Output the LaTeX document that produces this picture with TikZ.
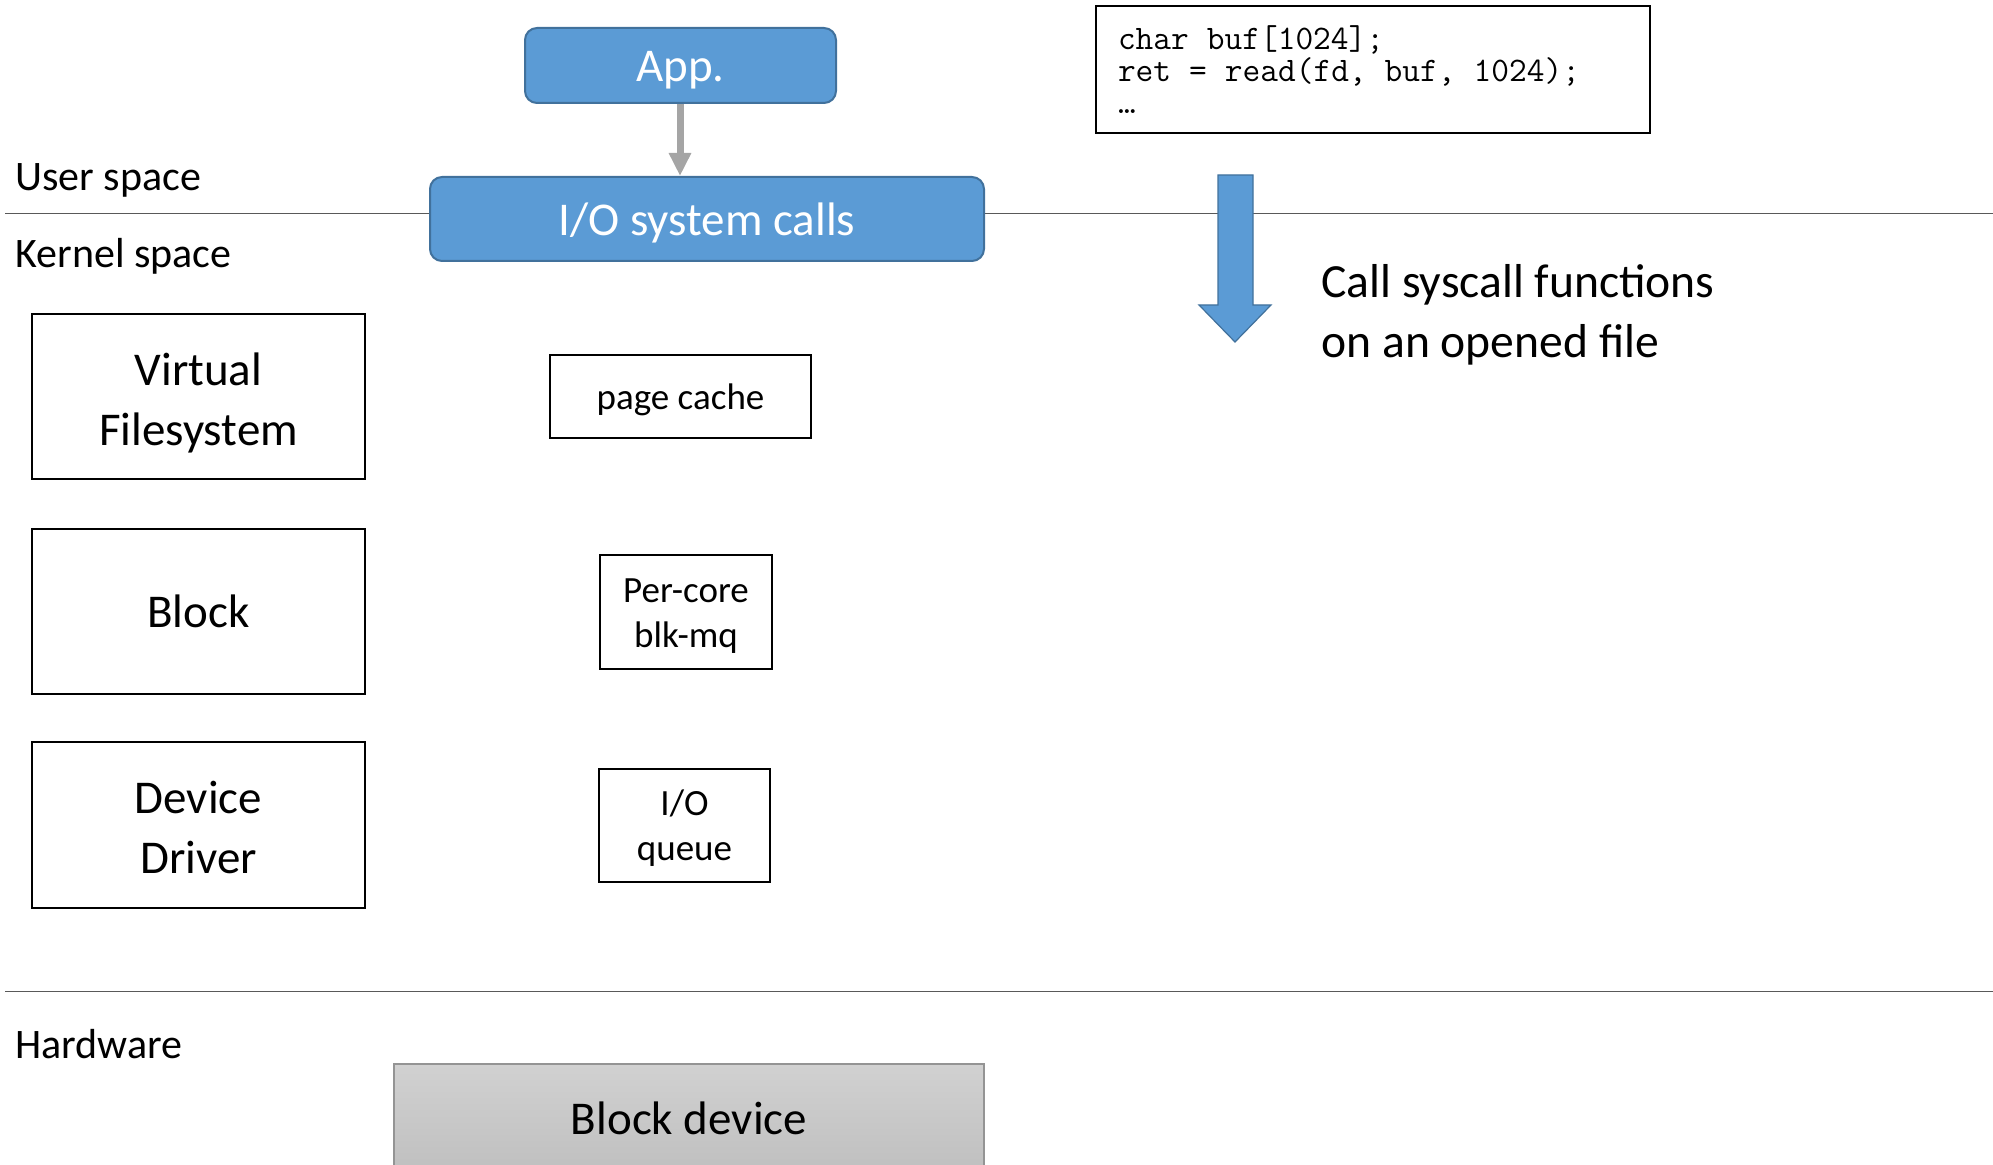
\documentclass[tikz,border=0pt]{standalone}
\usepackage{fontspec}
\setmainfont{Carlito}
\usetikzlibrary{arrows.meta}
\definecolor{accentblue}{HTML}{5B9BD5}
\definecolor{accentedge}{HTML}{41719C}
\definecolor{rulegray}{HTML}{595959}
\definecolor{arrowgray}{HTML}{A5A5A5}
% line struts that centre text on the full ascent/descent of the face
\newcommand\topstrut{\rule{0pt}{0.952em}}
\newcommand\tallstrut{\rule{0pt}{1.06em}}
\newcommand\botstrut{\rule[-0.269em]{0pt}{0pt}}
\tikzset{
  slidetext/.style={execute at begin node=\topstrut, execute at end node=\botstrut},
  layerbox/.style={draw=black, line width=1pt, align=center, inner sep=0pt,
    font=\fontsize{23.5}{30}\selectfont},
  smallbox/.style={draw=black, line width=1pt, align=center, inner sep=0pt,
    font=\fontsize{18.5}{22.5}\selectfont},
  bluebox/.style={draw=accentedge, fill=accentblue, line width=1pt, rounded corners=6pt,
    text=white, align=center, inner sep=0pt, slidetext, font=\fontsize{23.5}{30}\selectfont},
  spacelabel/.style={anchor=base west, inner sep=0pt, font=\fontsize{21}{25}\selectfont},
  divider/.style={draw=rulegray, line width=0.8pt},
}
\begin{document}
\begin{tikzpicture}[x=0.5pt, y=-0.5pt]
\useasboundingbox (0,0) rectangle (1993,1165);
\clip (0,0) rectangle (1993,1165);

% layer dividers
\coordinate (ul) at (5,213.5);
\coordinate (ur) at (1993,213.5);
\coordinate (hl) at (5,991.5);
\coordinate (hr) at (1993,991.5);
\draw[divider] (ul) -- (ur);
\draw[divider] (hl) -- (hr);

% layer names
\node[spacelabel] (user) at (15,191) {User space};
\node[spacelabel] (kernel) at (15,268) {Kernel space};
\node[spacelabel] (hw) at (15,1058) {Hardware};

% user side
\node[bluebox, minimum width=155.5pt, minimum height=37.5pt] (app) at (680.5,65.5) {App.};
\node[bluebox, minimum width=277pt, minimum height=42pt] (sys) at (707,219) {I/O system calls};
\draw[arrowgray, line width=3.5pt, -{Triangle[width=10.5pt,length=11.5pt]}]
  (app.south -| 680,0) -- (sys.north -| 680,0);

% example code
\node[draw=black, line width=1pt, minimum width=277pt, minimum height=63.5pt,
  text width=255pt, inner xsep=11pt, align=left,
  execute at begin node={\spaceskip=0.525em\relax\lineskiplimit=-50pt\relax},
  font=\ttfamily\fontsize{17.2}{16}\selectfont] (code) at (1373,69.5)
  {char buf[1024];\\ret = read(fd, buf, 1024);\\…};

% syscall direction arrow
\draw[draw=accentedge, fill=accentblue, line width=0.6pt]
  (1218,175) -- (1253,175) -- (1253,305) -- (1271,305) -- (1235,342)
  -- (1199,305) -- (1218,305) -- cycle;
\node[anchor=west, inner sep=0pt, align=left, font=\fontsize{23.8}{30}\selectfont]
  (callnote) at (1321,311) {\topstrut Call syscall functions\\on an opened file\botstrut};

% kernel layers
\node[layerbox, minimum width=166.5pt, minimum height=82.5pt] (vfs) at (198.5,396.5) {\tallstrut Virtual\\Filesystem\botstrut};
\node[layerbox, minimum width=166.5pt, minimum height=82.5pt] (blk) at (198.5,611.5) {\topstrut Block\botstrut};
\node[layerbox, minimum width=166.5pt, minimum height=83pt] (drv) at (198.5,825) {\tallstrut Device\\Driver\botstrut};

% kernel data structures
\node[smallbox, minimum width=130.5pt, minimum height=41.5pt] (pcache) at (680.5,396.5) {\topstrut page cache\botstrut};
\node[smallbox, minimum width=86pt, minimum height=57pt] (mq) at (686,612) {\topstrut Per-core\\blk-mq\botstrut};
\node[smallbox, minimum width=85.5pt, minimum height=56.5pt] (ioq) at (684.5,825.5) {\topstrut I/O\\queue\botstrut};

% hardware
\node[draw=arrowgray!90!black, line width=0.8pt, top color=black!18, bottom color=black!25,
  minimum width=295pt, minimum height=54pt, inner sep=0pt,
  font=\fontsize{23.5}{30}\selectfont] (dev) at (689,1118) {Block device};
\end{tikzpicture}
\end{document}
